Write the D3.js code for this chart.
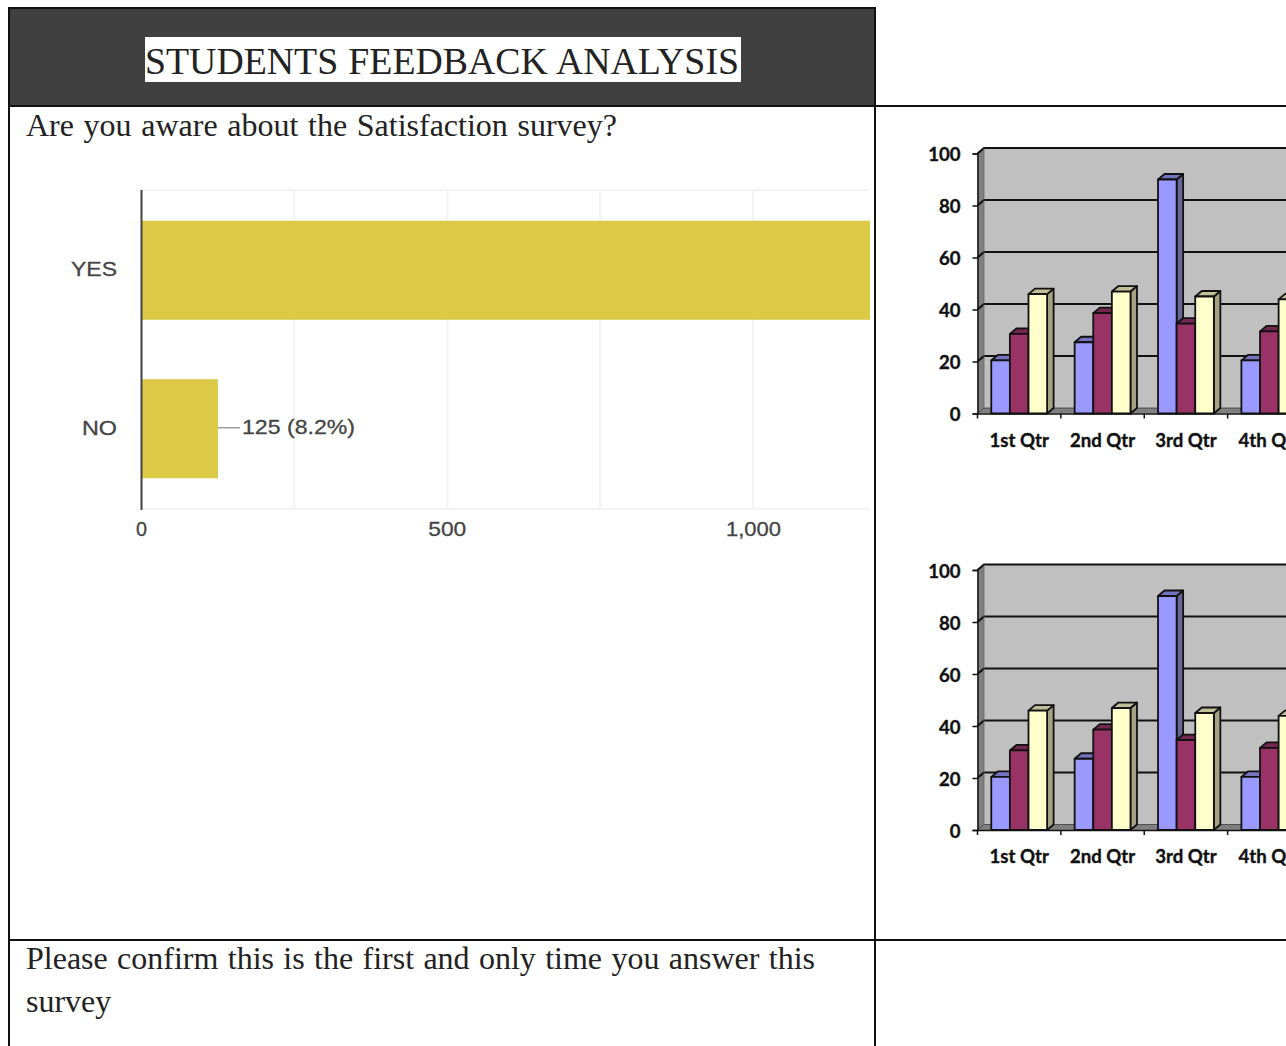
<!DOCTYPE html>
<html><head><meta charset="utf-8">
<script src="https://cdn.jsdelivr.net/npm/d3@7/dist/d3.min.js"></script>
<style>html,body{margin:0;padding:0;background:#fff;overflow:hidden}svg{display:block}</style>
</head><body><svg id="c" width="1286" height="1046"></svg>
<script>
const titleText = "STUDENTS FEEDBACK ANALYSIS";
const question1 = "Are you aware about the Satisfaction survey?";
const question2a = "Please confirm this is the first and only time you answer this";
const question2b = "survey";
const answers = ["YES", "NO"];
const answerCounts = [1399, 125];
const answerLabel = "125 (8.2%)";
const countTicks = [0, 500, 1000];
const countMinorTicks = [250, 750];
const quarters = ["1st Qtr", "2nd Qtr", "3rd Qtr", "4th Qtr"];
const seriesNames = ["East", "West", "North"];
const east = [20.4, 27.4, 90, 20.4];
const west = [30.6, 38.6, 34.6, 31.6];
const north = [45.9, 46.9, 45, 43.9];
const valueTicks = [0, 20, 40, 60, 80, 100];
const faceColors = ["#9999ff", "#993366", "#ffffcc"];
const topColors = ["#7373bf", "#732650", "#bfbf99"];
const sideColors = ["#666699", "#66223f", "#a3a383"];

const svg = d3.select("#c");

function fitted(x, y, size, str, target) {
  const t = svg.append("text").attr("x", x).attr("y", y)
    .attr("font-family", "'Liberation Serif'").attr("font-size", size)
    .attr("fill", "#222").text(str);
  const n = str.split(" ").length - 1;
  if (n > 0) t.attr("word-spacing", (target - t.node().getComputedTextLength()) / n);
  return t;
}

// table frame
svg.append("rect").attr("x", 9).attr("y", 8).attr("width", 866).attr("height", 98).attr("fill", "#404040");
svg.append("rect").attr("x", 145).attr("y", 37).attr("width", 596).attr("height", 45).attr("fill", "#fff");
fitted(145, 74, 37.8, titleText, 594);
fitted(26, 136, 32, question1, 591);
fitted(26, 969, 32, question2a, 789);
fitted(26, 1012, 32, question2b, 84);

const frame = [[8, 8, 876, 8], [9, 7, 9, 1046], [875, 7, 875, 1046], [9, 106, 1286, 106], [9, 940, 1286, 940]];
svg.append("g").selectAll("line").data(frame).join("line")
  .attr("x1", d => d[0]).attr("y1", d => d[1]).attr("x2", d => d[2]).attr("y2", d => d[3])
  .attr("stroke", "#111").attr("stroke-width", 2);

// left horizontal bar chart
const defs = svg.append("defs");
defs.append("clipPath").attr("id", "plotclip").append("rect")
  .attr("x", 130).attr("y", 180).attr("width", 740).attr("height", 340);
const xCount = d3.scaleLinear().domain([0, 1000]).range([141.5, 753]);
const yAns = d3.scaleBand().domain(answers).range([191, 508]).paddingInner(0.375).paddingOuter(0.1875);
const plot = svg.append("g").attr("clip-path", "url(#plotclip)");
plot.selectAll("line.grid").data(countTicks.concat(countMinorTicks).concat([1250])).join("line")
  .attr("class", "grid")
  .attr("x1", d => xCount(d)).attr("x2", d => xCount(d)).attr("y1", 190).attr("y2", 509)
  .attr("stroke", "#f3f3f3").attr("stroke-width", 2);
plot.selectAll("line.hgrid").data([190, 509]).join("line").attr("class", "hgrid")
  .attr("x1", 141).attr("x2", 870).attr("y1", d => d).attr("y2", d => d)
  .attr("stroke", "#f3f3f3").attr("stroke-width", 2);
plot.selectAll("rect.bar").data(answers).join("rect").attr("class", "bar")
  .attr("x", xCount(0)).attr("y", d => yAns(d))
  .attr("width", (d, i) => xCount(answerCounts[i]) - xCount(0))
  .attr("height", yAns.bandwidth()).attr("fill", "#dcc946");
svg.append("line").attr("x1", 141.5).attr("x2", 141.5).attr("y1", 190).attr("y2", 510)
  .attr("stroke", "#444").attr("stroke-width", 2);

function sans(x, y, str, w, anchor) {
  return svg.append("text").attr("x", x).attr("y", y).attr("font-family", "'Liberation Sans'")
    .attr("font-size", 21).attr("fill", "#444").attr("stroke", "#444").attr("stroke-width", 0.3)
    .attr("text-anchor", anchor || "start")
    .attr("textLength", w).attr("lengthAdjust", "spacingAndGlyphs").text(str);
}
answers.forEach(a => {
  const w = a === "YES" ? 46 : 35;
  sans(117, yAns(a) + yAns.bandwidth() / 2 + 6, a, w, "end");
});
const noMid = yAns("NO") + yAns.bandwidth() / 2;
svg.append("line").attr("x1", xCount(125)).attr("x2", 240).attr("y1", noMid - 1).attr("y2", noMid - 1)
  .attr("stroke", "#999").attr("stroke-width", 1.4);
sans(242, noMid + 5.5, answerLabel, 113);
const tickW = {0: 11, 500: 38, 1000: 55};
countTicks.forEach(t => {
  sans(xCount(t) + (t === 1000 ? 0.5 : 0), 536, d3.format(",")(t), tickW[t], "middle");
});

// 3D column charts
function column3d(zeroY, hundredY) {
  const dx = 6.5, dy = 5.5;
  const g = svg.append("g");
  const y = d3.scaleLinear().domain([0, 100]).range([zeroY, hundredY]);
  const x0 = d3.scaleBand().domain(quarters).range([977.5, 1311]);
  const x1 = d3.scaleBand().domain(seriesNames).range([0, x0.bandwidth()]).paddingInner(0).paddingOuter(0.74);
  const poly = pts => pts.map(p => p.join(",")).join(" ");
  const L = 977.5, R = 1340, B = y(0), T = y(100);

  g.append("polygon").attr("points", poly([[L + dx, T - dy], [R, T - dy], [R, B - dy], [L + dx, B - dy]])).attr("fill", "#c0c0c0");
  g.append("polygon").attr("points", poly([[L, T], [L + dx, T - dy], [L + dx, B - dy], [L, B]])).attr("fill", "#808080");
  g.append("polygon").attr("points", poly([[L, B], [L + dx, B - dy], [R, B - dy], [R, B]])).attr("fill", "#808080");
  valueTicks.forEach(t => {
    g.append("polyline").attr("points", poly([[L, y(t)], [L + dx, y(t) - dy], [R, y(t) - dy]]))
      .attr("fill", "none").attr("stroke", "#111").attr("stroke-width", t === 0 ? 0.6 : 2.2);
  });
  g.append("line").attr("x1", L + dx).attr("x2", L + dx).attr("y1", T - dy).attr("y2", B - dy).attr("stroke", "#666").attr("stroke-width", 0.8);

  quarters.forEach((q, i) => {
    [east, west, north].forEach((vals, s) => {
      const bx = x0(q) + x1(seriesNames[s]), w = x1.bandwidth(), top = y(vals[i]);
      const b = g.append("g").attr("stroke", "#111").attr("stroke-width", 1.8).attr("stroke-linejoin", "round");
      b.append("polygon").attr("points", poly([[bx + w, top], [bx + w + dx, top - dy], [bx + w + dx, B - dy], [bx + w, B]])).attr("fill", sideColors[s]);
      b.append("polygon").attr("points", poly([[bx, top], [bx + dx, top - dy], [bx + w + dx, top - dy], [bx + w, top]])).attr("fill", topColors[s]);
      b.append("rect").attr("x", bx).attr("y", top).attr("width", w).attr("height", B - top).attr("fill", faceColors[s]);
    });
  });

  // axes
  const ya = d3.axisLeft(y).tickValues(valueTicks).tickSize(5).tickPadding(12);
  const yg = g.append("g").attr("transform", `translate(${L},0)`).call(ya);
  const xa = d3.axisBottom(x0).tickSize(0).tickPadding(20);
  const xg = g.append("g").attr("transform", `translate(0,${B})`).call(xa);
  [yg, xg].forEach(a => {
    a.selectAll("text").attr("font-family", "Lato").attr("font-weight", 700).attr("font-size", 18.6)
      .attr("fill", "#111").attr("stroke", "#111").attr("stroke-width", 0.35);
    a.selectAll("line").attr("stroke", "#111").attr("stroke-width", 1.5);
    a.select(".domain").attr("stroke", "#111").attr("stroke-width", 1.5);
  });
  yg.selectAll("text").attr("dy", "0.38em");
  xg.selectAll("line.sep").data(d3.range(0, 5)).join("line").attr("class", "sep")
    .attr("x1", d => L + d * x0.bandwidth()).attr("x2", d => L + d * x0.bandwidth())
    .attr("y1", 0).attr("y2", 5).attr("stroke", "#111").attr("stroke-width", 1.5);
}
column3d(413.5, 153.5);
column3d(830, 570);
</script></body></html>
